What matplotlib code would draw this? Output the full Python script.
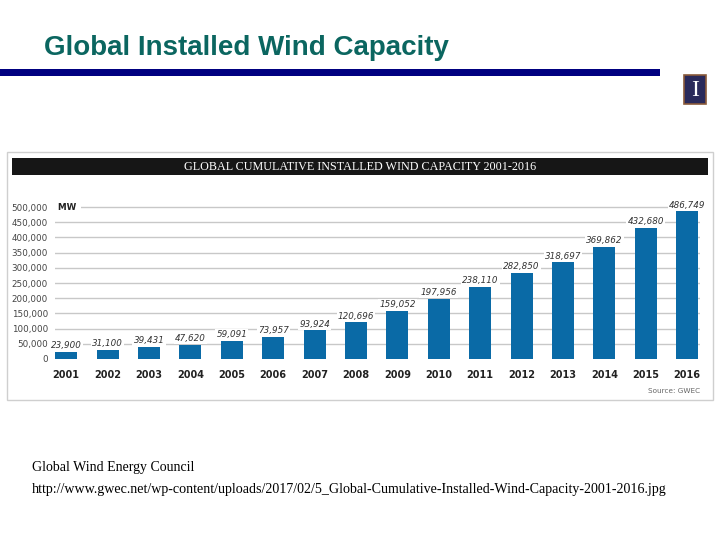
import matplotlib.pyplot as plt
from matplotlib.patches import Rectangle

# data
years = ['2001', '2002', '2003', '2004', '2005', '2006', '2007', '2008',
         '2009', '2010', '2011', '2012', '2013', '2014', '2015', '2016']
capacity = [23900, 31100, 39431, 47620, 59091, 73957, 93924, 120696,
            159052, 197956, 238110, 282850, 318697, 369862, 432680, 486749]
value_labels = ['23,900', '31,100', '39,431', '47,620', '59,091', '73,957', '93,924', '120,696',
                '159,052', '197,956', '238,110', '282,850', '318,697', '369,862', '432,680', '486,749']
y_ticks = [0, 50000, 100000, 150000, 200000, 250000, 300000, 350000, 400000, 450000, 500000]
y_tick_labels = ['0', '50,000', '100,000', '150,000', '200,000', '250,000',
                 '300,000', '350,000', '400,000', '450,000', '500,000']

W, H = 720, 540
fig = plt.figure(figsize=(7.2, 5.4), dpi=100)
fig.patch.set_facecolor('white')


def px_rect(x0, y0, x1, y1, **kw):
    # rectangle in picture pixels (y from the top)
    r = Rectangle((x0 / W, 1 - y1 / H), (x1 - x0) / W, (y1 - y0) / H,
                  transform=fig.transFigure, **kw)
    fig.patches.append(r)


# slide title and rule
fig.text(44 / W, 1 - 48 / H, 'Global Installed Wind Capacity', fontsize=20,
         fontweight='bold', family='Liberation Sans', color='#0b6660',
         ha='left', va='center')
px_rect(0, 69, 660, 76, facecolor='#000080', edgecolor='none')

# little logo
px_rect(684, 75, 706, 104, facecolor='#2a2a5a', edgecolor='#8a5a3a', linewidth=1.2)
fig.text(695 / W, 1 - 90 / H, 'I', fontsize=17, family='Liberation Serif',
         color='white', ha='center', va='center')

# embedded chart frame and black header
px_rect(7, 152, 713, 400, facecolor='white', edgecolor='#cfcfcf', linewidth=1)
px_rect(12, 158, 708, 175, facecolor='#161616', edgecolor='none')
fig.text(360 / W, 1 - 167 / H, 'GLOBAL CUMULATIVE INSTALLED WIND CAPACITY 2001-2016',
         fontsize=8.7, family='Liberation Serif', color='white',
         ha='center', va='center')

# bar chart axes
ax = fig.add_axes([55 / W, 1 - 359 / H, 645 / W, 158 / H])
ax.set_zorder(5)
x = list(range(len(years)))
ax.set_xlim(-0.27, 15.31)
ax.set_ylim(0, 520000)
for v in y_ticks[1:]:
    ax.axhline(v, color='#c8c8c8', linewidth=1, zorder=0)
ax.bar(x, capacity, width=0.53, color='#0a6aa6', zorder=2)

for xi, v, lab in zip(x, capacity, value_labels):
    ax.text(xi, v + 20000, lab, ha='center', va='center', fontsize=6.3,
            style='italic', color='#333333', zorder=3,
            bbox=dict(facecolor='white', edgecolor='none', pad=0.8))

ax.set_yticks(y_ticks)
ax.set_yticklabels(y_tick_labels, fontsize=6.3, color='#444444')
ax.set_xticks(x)
ax.set_xticklabels(years, fontsize=7, fontweight='bold', color='#222222')
ax.tick_params(axis='both', length=0)
ax.tick_params(axis='y', pad=5)
ax.tick_params(axis='x', pad=8)
for s in ax.spines.values():
    s.set_visible(False)
ax.patch.set_alpha(0)

ax.text(-0.27, 500000, ' MW ', fontsize=6.3, fontweight='bold', color='#222222',
        ha='left', va='center', zorder=3,
        bbox=dict(facecolor='white', edgecolor='none', pad=1.5))

fig.text(700 / W, 1 - 391 / H, 'Source: GWEC', fontsize=5.2, color='#666666',
         ha='right', va='center')

# footer
fig.text(32 / W, 1 - 468 / H, 'Global Wind Energy Council', fontsize=10,
         family='Liberation Serif', color='black', ha='left', va='center')
fig.text(32 / W, 1 - 489 / H,
         'http://www.gwec.net/wp-content/uploads/2017/02/5_Global-Cumulative-Installed-Wind-Capacity-2001-2016.jpg',
         fontsize=10.1, family='Liberation Serif', color='black', ha='left', va='center')

fig.savefig('out.png', dpi=100)
